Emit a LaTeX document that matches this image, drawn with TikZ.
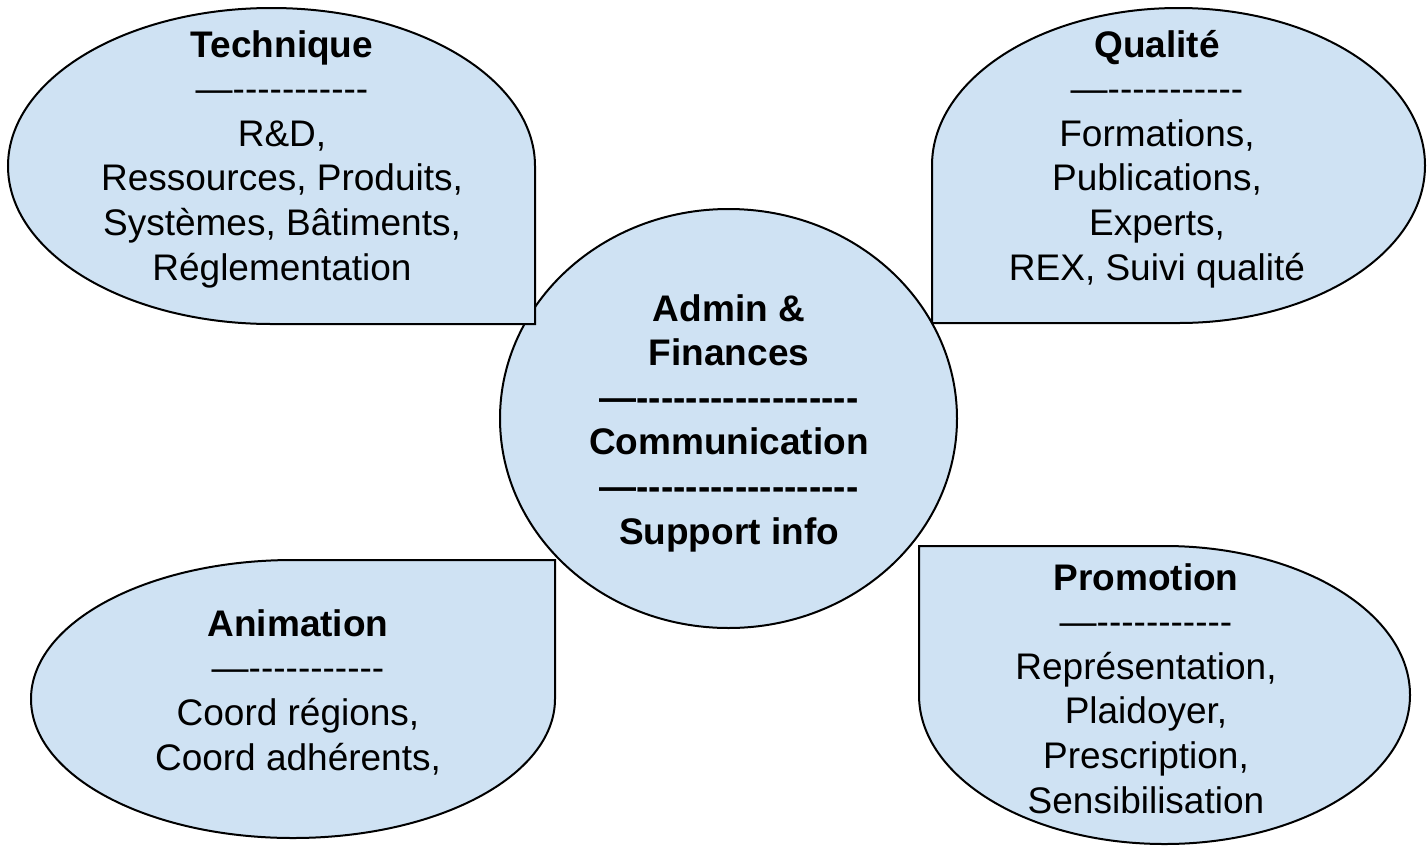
\documentclass[tikz,border=0pt]{standalone}
\usepackage{fontspec}
\setmainfont{Liberation Sans}[Ligatures=TeXOff]
\definecolor{petal}{HTML}{CFE2F3}
\tikzset{
  petalshape/.style={fill=petal, draw=black, line width=2pt, line join=miter},
  txt/.style={align=center, anchor=base, inner sep=0pt, font=\fontsize{37}{44.6}\selectfont},
}
\begin{document}
\begin{tikzpicture}[x=1pt,y=1pt]
\useasboundingbox (0,0) rectangle (1427,-849);
% centre circle
\draw[petalshape] (728.5,-418.5) ellipse [x radius=228.5pt, y radius=209.5pt];
% Technique (square corner bottom-right)
\draw[petalshape] (535,-166) -- (535,-324) -- (271.5,-324)
  arc[start angle=270, end angle=0, x radius=263.5pt, y radius=158pt] -- cycle;
% Qualite (square corner bottom-left)
\draw[petalshape] (932,-165.5) -- (932,-323) -- (1178.5,-323)
  arc[start angle=-90, end angle=180, x radius=246.5pt, y radius=157.5pt] -- cycle;
% Animation (square corner top-right)
\draw[petalshape] (555,-699) -- (555,-560) -- (293,-560)
  arc[start angle=90, end angle=360, x radius=262pt, y radius=139pt] -- cycle;
% Promotion (square corner top-left)
\draw[petalshape] (919,-695) -- (919,-546) -- (1164.5,-546)
  arc[start angle=90, end angle=-180, x radius=245.5pt, y radius=149pt] -- cycle;

\node[txt] (tech) at (282,-280) {\textbf{Technique}\\—-----------\\R\&D,\\Ressources, Produits,\\Systèmes, Bâtiments,\\Réglementation};
\node[txt] (qual) at (1157,-280) {\textbf{Qualité}\\—-----------\\Formations,\\Publications,\\Experts,\\REX, Suivi qualité};
\node[txt] (anim) at (298,-770) {\textbf{Animation}\\—-----------\\Coord régions,\\Coord adhérents,};
\node[txt] (promo) at (1146,-813) {\textbf{Promotion}\\—-----------\\Représentation,\\Plaidoyer,\\Prescription,\\Sensibilisation};
\node[txt, font=\fontsize{37}{44.6}\selectfont\bfseries] (core) at (729,-544) {Admin \&\\Finances\\—------------------\\Communication\\—------------------\\Support info};
\end{tikzpicture}
\end{document}
